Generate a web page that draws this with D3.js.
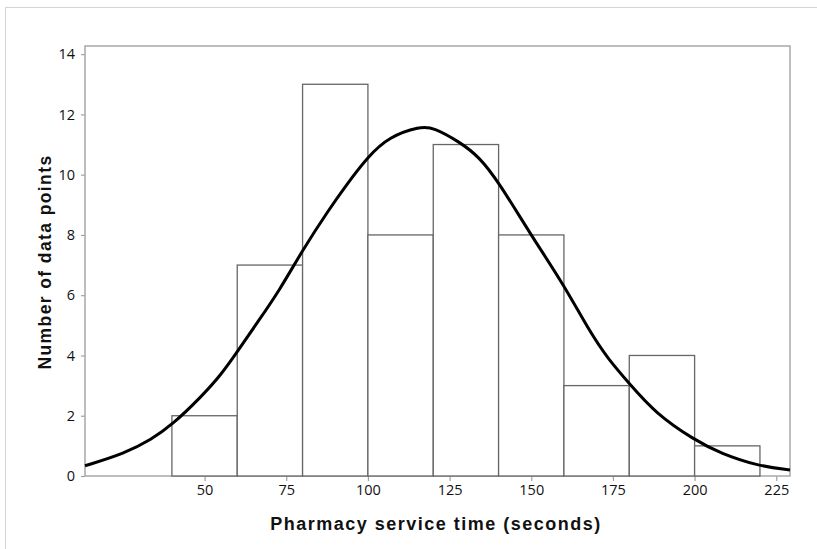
<!DOCTYPE html>
<meta charset="utf-8">
<style>
    body { margin: 0; background: #fff; overflow: hidden; }
    .tick text { font-family: "Open Sans", "Noto Sans", sans-serif; font-size: 14.5px; fill: #111; }
    .title { font-family: "Liberation Sans", Arial, sans-serif; font-weight: bold; fill: #111; }
</style>
<svg id="canvas" width="817" height="549"></svg>
<script src="https://d3js.org/d3.v7.min.js"></script>
<script>

    // histogram bins (seconds) and counts
    var binStart = [20, 40, 60, 80, 100, 120, 140, 160, 180, 200];
    var binEnd   = [40, 60, 80, 100, 120, 140, 160, 180, 200, 220];
    var counts   = [0, 2, 7, 13, 8, 11, 8, 3, 4, 1];

    // fitted curve
    var curveX = [13.4, 25.6, 33.8, 40, 49, 55, 60, 66, 73, 80, 88, 93, 100, 106.5, 116, 120, 128, 134, 140, 150, 160, 167.6, 173.7, 180, 188, 200, 208, 219.5, 229.2];
    var curveY = [0.34, 0.75, 1.22, 1.69, 2.63, 3.35, 4.12, 5.07, 6.17, 7.5, 8.83, 9.6, 10.6, 11.26, 11.6, 11.57, 11.09, 10.6, 9.76, 7.98, 6.34, 4.84, 3.85, 3.07, 2.08, 1.19, 0.75, 0.33, 0.2];

    var xTicks = [50, 75, 100, 125, 150, 175, 200, 225];
    var yTicks = [0, 2, 4, 6, 8, 10, 12, 14];

    var svg = d3.select("svg");
    var mLeft = 85, mRight = 790, mTop = 46, mBottom = 476;

    // outer figure border
    svg.append("rect")
        .attr("x", 5.5).attr("y", 7.5)
        .attr("width", 900).attr("height", 600)
        .attr("fill", "none").attr("stroke", "#d4d4d4");

    var x = d3.scaleLinear().domain([13.4, 229.2]).range([mLeft, mRight]);
    var y = d3.scaleLinear().domain([0, 14.27]).range([mBottom, mTop]);

    var xAxis = svg.append("g")
        .attr("transform", "translate(0," + mBottom + ")")
        .call(d3.axisBottom(x).tickValues(xTicks).tickSize(5).tickPadding(4));
    var yAxis = svg.append("g")
        .attr("transform", "translate(" + mLeft + ",0)")
        .call(d3.axisLeft(y).tickValues(yTicks).tickSize(4).tickPadding(6));
    [xAxis, yAxis].forEach(function(a) {
        a.select(".domain").remove();
        a.selectAll(".tick line").attr("stroke", "#a0a0a0").attr("stroke-width", 1.2);
    });

    // frame
    svg.append("rect")
        .attr("x", mLeft).attr("y", mTop)
        .attr("width", mRight - mLeft).attr("height", mBottom - mTop)
        .attr("fill", "none").attr("stroke", "#a8a8a8").attr("stroke-width", 1.5);

    // bars
    svg.append("g").selectAll("rect")
        .data(counts)
        .enter().append("rect")
        .attr("x", function(d, i) { return x(binStart[i]); })
        .attr("y", function(d) { return y(d); })
        .attr("width", function(d, i) { return x(binEnd[i]) - x(binStart[i]); })
        .attr("height", function(d) { return y(0) - y(d); })
        .attr("fill", "white")
        .attr("stroke", "#666")
        .attr("stroke-width", 1.3);

    // curve
    var pts = curveX.map(function(v, i) { return [v, curveY[i]]; });
    svg.append("path")
        .datum(pts)
        .attr("fill", "none")
        .attr("stroke", "#000")
        .attr("stroke-width", 3)
        .attr("d", d3.line()
            .x(function(d) { return x(d[0]); })
            .y(function(d) { return y(d[1]); })
            .curve(d3.curveBasis));

    // titles
    svg.append("text")
        .attr("class", "title")
        .attr("x", 436).attr("y", 530)
        .attr("text-anchor", "middle")
        .style("font-size", "18px")
        .style("letter-spacing", "1.5px")
        .text("Pharmacy service time (seconds)");

    svg.append("text")
        .attr("class", "title")
        .attr("transform", "translate(51,262) rotate(-90)")
        .attr("text-anchor", "middle")
        .style("font-size", "17.5px")
        .style("letter-spacing", "1.4px")
        .text("Number of data points");

</script>
